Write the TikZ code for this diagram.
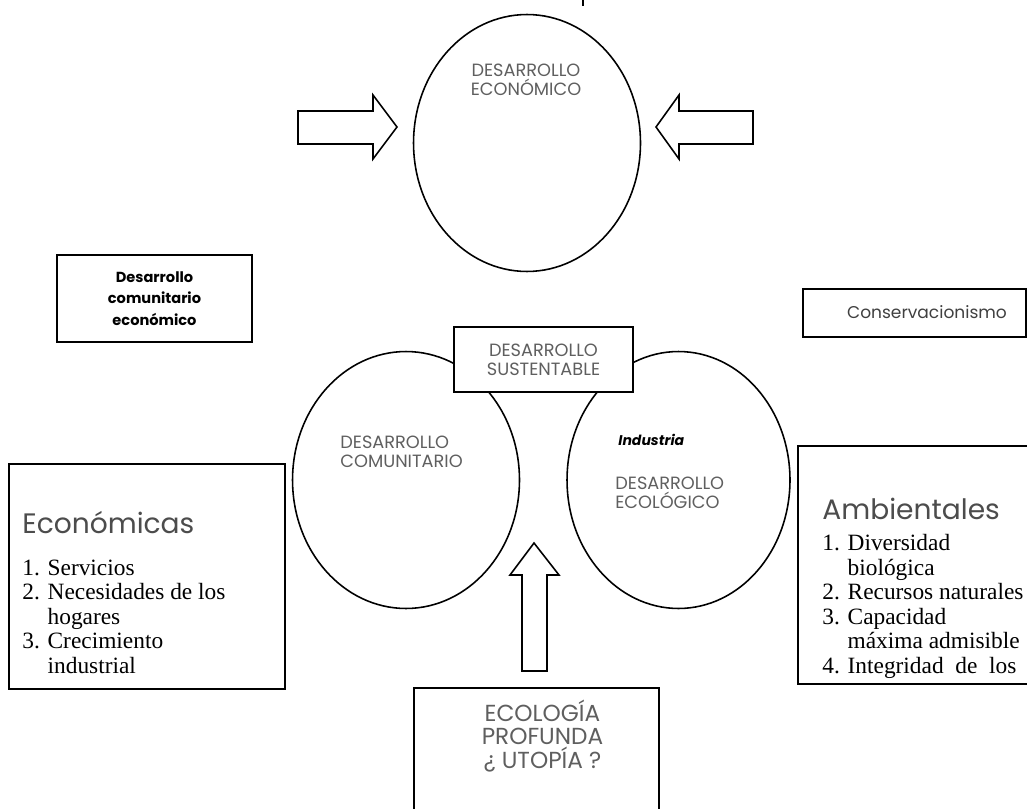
\documentclass[tikz,border=0pt]{standalone}
\usepackage{fontspec}
\setmainfont{Liberation Serif}
\newfontfamily\gothic{Poppins}
\usetikzlibrary{shapes.geometric,positioning}

\definecolor{capgray}{RGB}{95,95,95}

\tikzset{
    bubble/.style = {ellipse, draw, line width=0.9pt, inner sep=0pt,
                     minimum width=4.54cm, minimum height=5.14cm},
    frame/.style  = {draw, line width=0.9pt, fill=white, inner sep=0pt},
    caps/.style   = {font={\gothic\fontsize{10.1}{10.8}\selectfont}, text=capgray, inner sep=0pt},
    heading/.style= {font={\gothic\fontsize{16}{18}\selectfont}, text=black!70, inner sep=0pt, anchor=base west},
    listing/.style= {font={\fontsize{13.3}{13.9}\selectfont}, align=left, inner sep=0pt, anchor=base west},
    fatarrow/.style = {draw, line width=0.9pt, fill=white, line join=miter}
}

\newcommand{\ind}{\phantom{1. }}

\begin{document}
\begin{tikzpicture}[x=0.02cm, y=-0.02cm]
    \useasboundingbox (0,0) rectangle (1027,808);

    % the three ellipses
    \node[bubble] (eco) at (527,143) {};
    \node[bubble] (com) at (406,480) {};
    \node[bubble, minimum width=4.46cm] (ecol) at (678.5,480) {};

    \node[caps, align=center] (ecotxt) at (526,80) {DESARROLLO\\ECONÓMICO};
    \node[caps, align=left, anchor=west] (comtxt) at (340,452) {DESARROLLO\\COMUNITARIO};
    \node[font={\gothic\bfseries\itshape\fontsize{8}{10}\selectfont}, inner sep=0pt, anchor=west] (indtxt) at (618,440) {Industria};
    \node[caps, align=left, anchor=west] (ecoltxt) at (615,493) {DESARROLLO\\ECOLÓGICO};

    % block arrows
    \draw[fatarrow] (397,127) -- (373,95) -- (373,111) -- (298,111) -- (298,144) -- (373,144) -- (373,159) -- cycle;
    \draw[fatarrow] (656,127) -- (679,95) -- (679,111) -- (753,111) -- (753,144) -- (679,144) -- (679,159) -- cycle;
    \draw[fatarrow] (534,543) -- (559,575) -- (547,575) -- (547,671) -- (522,671) -- (522,575) -- (510,575) -- cycle;

    % boxes
    \node[frame, caps, align=center, minimum width=3.58cm, minimum height=1.3cm] (sust) at (543.5,359.5) {DESARROLLO\\SUSTENTABLE};
    \node[frame, align=center, font={\gothic\bfseries\fontsize{8.3}{12.2}\selectfont},
          minimum width=3.9cm, minimum height=1.74cm] (dce) at (154.5,298.5) {Desarrollo\\comunitario\\económico};
    \node[frame, anchor=north west, minimum width=4.46cm, minimum height=0.96cm] (consbox) at (802,288) {};
    \node[font={\gothic\fontsize{9.7}{12}\selectfont}, text=black!75, inner sep=0pt] (cons) at (927,312) {Conservacionismo};

    \node[frame, anchor=north west, minimum width=5.52cm, minimum height=4.5cm] (econbox) at (8,463) {};
    \node[heading] (econhead) at (22,533) {Económicas};
    \node[listing] (econlist) at (22,673) {1. Servicios\\2. Necesidades de los\\\ind hogares\\3. Crecimiento\\\ind industrial};

    \node[frame, anchor=north west, minimum width=4.8cm, minimum height=4.76cm] (ambbox) at (797,445) {};
    \node[heading] (ambhead) at (822,519) {Ambientales};
    \node[listing] (amblist) at (822,673) {1. Diversidad\\\ind biológica\\2. Recursos naturales\\3. Capacidad\\\ind máxima admisible\\4. Integridad\ \ de\ \ los};

    \node[frame, anchor=north west, minimum width=4.9cm, minimum height=2.8cm] (ecobox) at (413,687) {};
    \node[caps, align=center, font={\gothic\fontsize{13.2}{13.6}\selectfont}] (ecotext) at (542.5,736) {ECOLOGÍA\\PROFUNDA\\¿ UTOPÍA ?};

    \draw[line width=0.6pt] (583,0) -- (583,6);
\end{tikzpicture}
\end{document}
